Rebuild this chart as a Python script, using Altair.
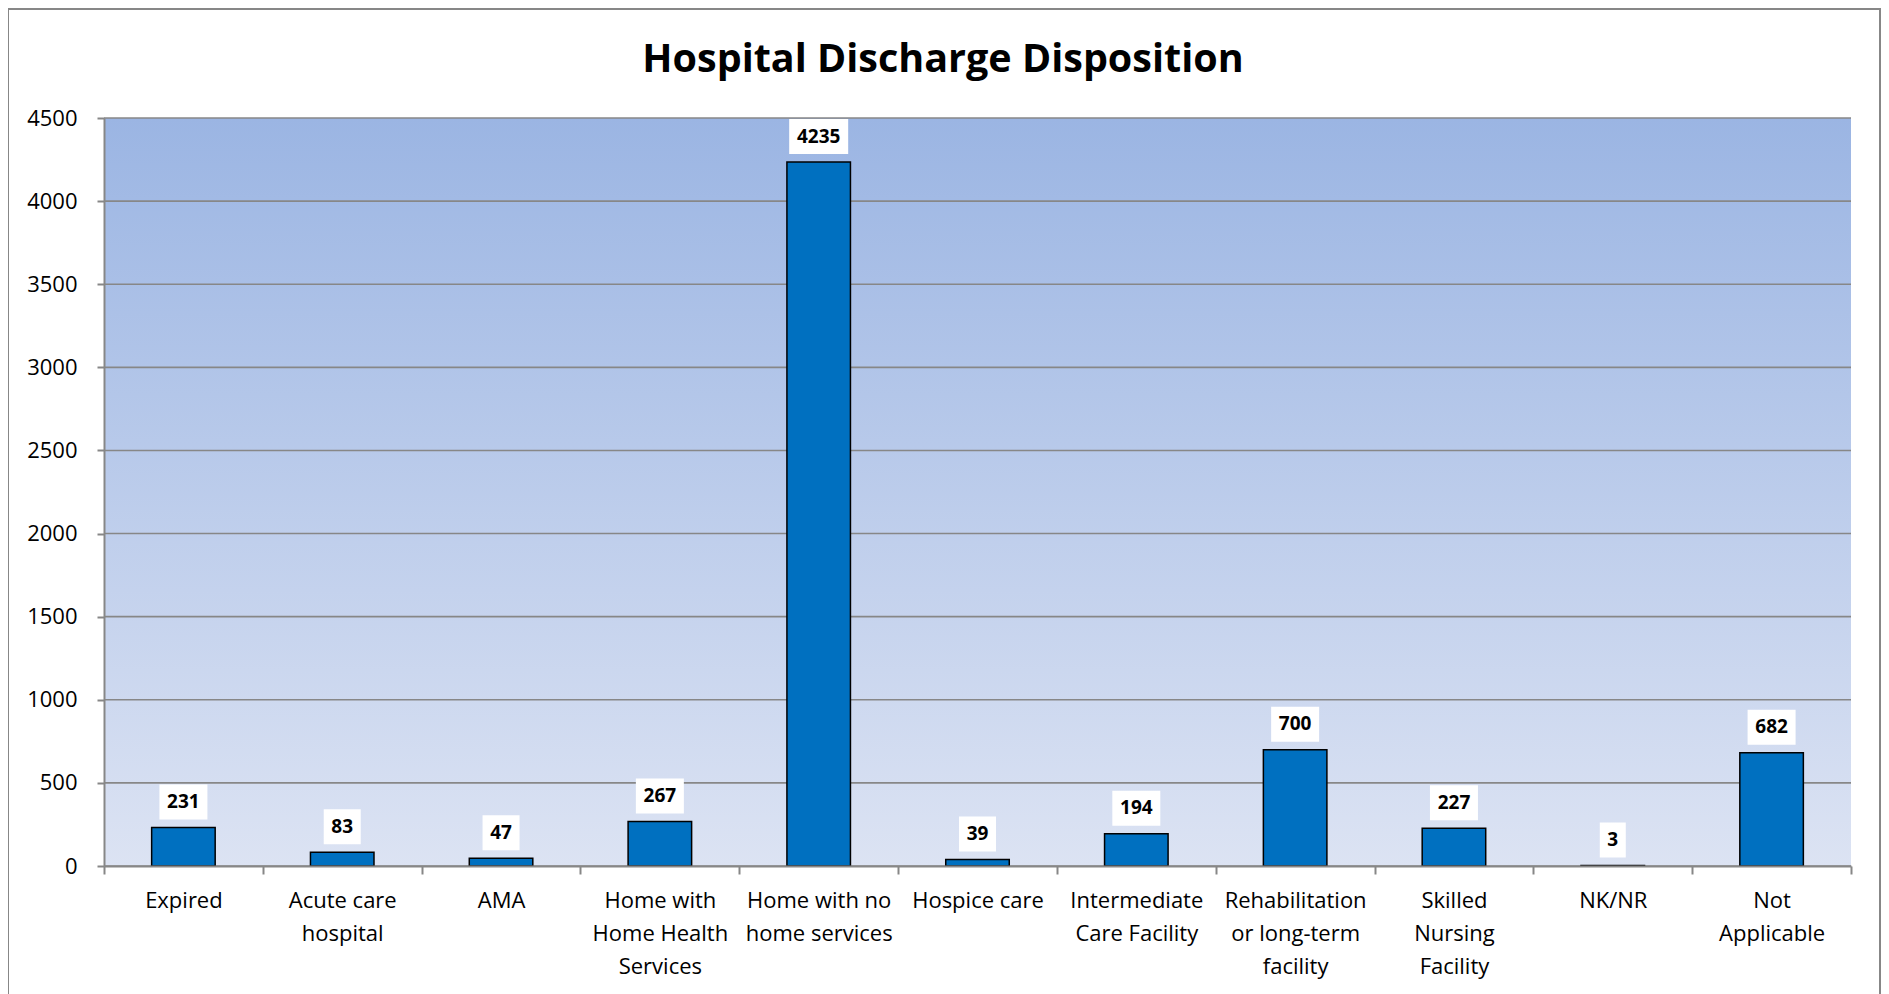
import altair as alt
import pandas as pd

# ---- data ----
categories = [
    "Expired",
    "Acute care|hospital",
    "AMA",
    "Home with|Home Health|Services",
    "Home with no|home services",
    "Hospice care",
    "Intermediate|Care Facility",
    "Rehabilitation|or long-term|facility",
    "Skilled|Nursing|Facility",
    "NK/NR",
    "Not|Applicable",
]
counts = [231, 83, 47, 267, 4235, 39, 194, 700, 227, 3, 682]
y_ticks = [0, 500, 1000, 1500, 2000, 2500, 3000, 3500, 4000, 4500]
title_text = "Hospital Discharge Disposition"

W, H = 1747, 748
FONT = "Open Sans"
GRID = "#878787"

df = pd.DataFrame({"cat": categories, "value": counts})
df["boxw"] = [15 + 11 * len(str(v)) for v in counts]
grid_df = pd.DataFrame({"value": y_ticks})

x_scale = alt.Scale(paddingInner=0, paddingOuter=0)
x_axis = alt.Axis(
    title=None,
    labelExpr="split(datum.label, '|')",
    labelAngle=0,
    labelFont=FONT,
    labelFontSize=22,
    labelLineHeight=33,
    labelColor="black",
    labelPadding=16,
    tickBand="extent",
    tickSize=8,
    tickColor=GRID,
    tickWidth=2,
    domainColor=GRID,
    domainWidth=2,
    grid=False,
    zindex=1,
)
y_scale = alt.Scale(domain=[0, 4500], nice=False)
y_axis = alt.Axis(
    title=None,
    values=y_ticks,
    format="d",
    labelFont=FONT,
    labelFontSize=22,
    labelColor="black",
    labelPadding=20,
    tickSize=7,
    tickColor=GRID,
    tickWidth=2,
    domainColor=GRID,
    domainWidth=2,
    grid=False,
    zindex=1,
)


def xe():
    return alt.X("cat:N", sort=None, scale=x_scale, axis=x_axis)


def ye():
    return alt.Y("value:Q", scale=y_scale, axis=y_axis)


background = alt.Chart(pd.DataFrame({"a": [0]})).mark_rect(
    fill=alt.LinearGradient(
        gradient="linear",
        stops=[
            alt.GradientStop(color="#9BB5E3", offset=0),
            alt.GradientStop(color="#DCE3F3", offset=1),
        ],
        x1=0, x2=0, y1=0, y2=1,
    )
).encode(
    x=alt.value(0), x2=alt.value("width"), y=alt.value(0), y2=alt.value("height")
)

grid = alt.Chart(grid_df).mark_rule(color=GRID, strokeWidth=1.6).encode(y=ye())

bars = alt.Chart(df).mark_bar(
    color="#0070C0", stroke="black", strokeWidth=1.5,
    width=alt.RelativeBandSize(0.4),
).encode(x=xe(), y=ye())

boxes = alt.Chart(df).mark_bar(fill="white", yOffset=-43, y2Offset=-8).encode(
    x=xe(),
    y=ye(),
    y2="value:Q",
    size=alt.Size("boxw:Q", scale=None, legend=None),
)

labels = alt.Chart(df).mark_text(
    font=FONT, fontSize=19, fontWeight="bold", color="black", baseline="middle", dy=-25.5
).encode(
    x=xe(),
    y=ye(),
    text="value:Q",
)

title = alt.Chart(pd.DataFrame({"t": [title_text]})).mark_text(
    font=FONT, fontSize=39.5, fontWeight="bold", color="black", baseline="middle", align="center"
).encode(text="t:N", x=alt.value(839), y=alt.value(-58.5))

frame = alt.Chart(pd.DataFrame({"a": [0]})).mark_rect(
    fill="white", fillOpacity=0, stroke=GRID, strokeWidth=2
).encode(x=alt.value(-96), x2=alt.value(1776), y=alt.value(-109), y2=alt.value(1000))

chart = alt.layer(background, grid, bars, boxes, labels, title, frame).properties(
    width=W,
    height=H,
    padding={"left": 96, "top": 110, "right": 30, "bottom": 128},
    autosize=alt.AutoSizeParams(type="none"),
    background="white",
).configure_view(stroke=None)

chart.save("out.html", embed_options={"renderer": "svg", "actions": False})
